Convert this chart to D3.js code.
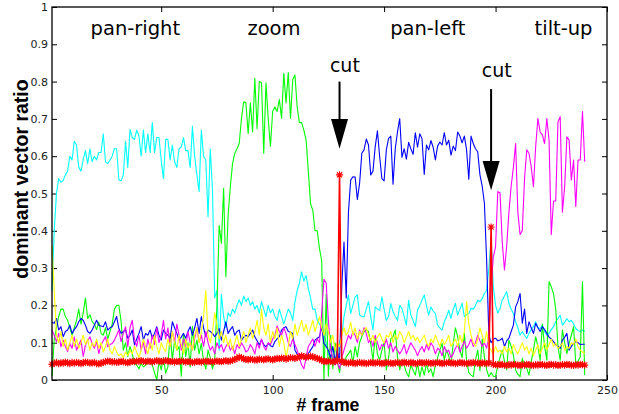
<!DOCTYPE html>
<html lang="en">
<head>
    <meta charset="UTF-8">
    <title>dominant vector ratio</title>
    <script src="https://d3js.org/d3.v7.min.js"></script>
    <style>
        body { margin: 0; background: #fff; }
    </style>
</head>
<body>

<div id="chart"></div>

<script>
    // frame numbers 1..240
    var frames = d3.range(1, 241);

    var cyanRatio = [
        0.24, 0.40, 0.50, 0.54, 0.53, 0.535, 0.55, 0.56, 0.60, 0.59,
        0.64, 0.63, 0.57, 0.56, 0.59, 0.615, 0.58, 0.62, 0.585, 0.60,
        0.59, 0.61, 0.61, 0.66, 0.585, 0.58, 0.59, 0.60, 0.62, 0.62,
        0.536, 0.534, 0.55, 0.64, 0.57, 0.672, 0.65, 0.645, 0.67, 0.655,
        0.60, 0.67, 0.61, 0.66, 0.61, 0.69, 0.61, 0.65, 0.65, 0.59,
        0.54, 0.645, 0.645, 0.59, 0.63, 0.585, 0.57, 0.62, 0.625, 0.65,
        0.615, 0.615, 0.57, 0.68, 0.60, 0.55, 0.505, 0.67, 0.60, 0.59,
        0.438, 0.62, 0.51, 0.22, 0.24, 0.08, 0.23, 0.17, 0.14, 0.18,
        0.17, 0.19, 0.18, 0.20, 0.215, 0.20, 0.225, 0.21, 0.22, 0.20,
        0.21, 0.19, 0.20, 0.18, 0.21, 0.19, 0.17, 0.20, 0.18, 0.19,
        0.17, 0.16, 0.19, 0.17, 0.15, 0.17, 0.19, 0.18, 0.16, 0.21,
        0.24, 0.26, 0.29, 0.265, 0.28, 0.245, 0.22, 0.19, 0.19, 0.16,
        0.15, 0.14, 0.12, 0.10, 0.07, 0.06, 0.05, 0.05, 0.06, 0.10,
        0.12, 0.17, 0.20, 0.228, 0.178, 0.20, 0.223, 0.228, 0.175, 0.17,
        0.17, 0.19, 0.21, 0.17, 0.134, 0.196, 0.19, 0.187, 0.223, 0.19,
        0.16, 0.17, 0.205, 0.183, 0.17, 0.16, 0.20, 0.192, 0.17, 0.147,
        0.214, 0.174, 0.16, 0.143, 0.187, 0.20, 0.214, 0.228, 0.20, 0.174,
        0.196, 0.185, 0.178, 0.147, 0.14, 0.134, 0.156, 0.17, 0.187, 0.165,
        0.19, 0.205, 0.174, 0.19, 0.205, 0.17, 0.175, 0.178, 0.192, 0.19,
        0.20, 0.214, 0.21, 0.218, 0.232, 0.24, 0.30, 0.38, 0.25, 0.20,
        0.18, 0.192, 0.214, 0.225, 0.237, 0.205, 0.19, 0.178, 0.156, 0.14,
        0.12, 0.13, 0.12, 0.112, 0.125, 0.135, 0.143, 0.156, 0.14, 0.138,
        0.147, 0.13, 0.12, 0.125, 0.135, 0.143, 0.156, 0.165, 0.174, 0.147,
        0.155, 0.165, 0.156, 0.16, 0.15, 0.138, 0.133, 0.129, 0.134, 0.13
    ];

    var greenRatio = [
        0.01, 0.11, 0.14, 0.17, 0.19, 0.19, 0.17, 0.16, 0.14, 0.12,
        0.14, 0.16, 0.19, 0.15, 0.18, 0.22, 0.165, 0.175, 0.157, 0.15,
        0.135, 0.155, 0.125, 0.12, 0.14, 0.11, 0.13, 0.15, 0.19, 0.20,
        0.20, 0.157, 0.08, 0.10, 0.063, 0.09, 0.07, 0.045, 0.04, 0.03,
        0.045, 0.035, 0.04, 0.045, 0.05, 0.04, 0.02, 0.0, 0.05, 0.027,
        0.06, 0.018, 0.036, 0.125, 0.054, 0.107, 0.08, 0.09, 0.01, 0.125,
        0.063, 0.10, 0.035, 0.143, 0.08, 0.107, 0.07, 0.098, 0.05, 0.03,
        0.08, 0.06, 0.03, 0.05, 0.20, 0.415, 0.366, 0.514, 0.277, 0.44,
        0.518, 0.58, 0.608, 0.62, 0.634, 0.701, 0.746, 0.743, 0.661, 0.743,
        0.665, 0.809, 0.674, 0.80, 0.797, 0.608, 0.797, 0.701, 0.626, 0.72,
        0.732, 0.72, 0.752, 0.701, 0.822, 0.743, 0.824, 0.701, 0.805, 0.818,
        0.732, 0.69, 0.69, 0.67, 0.643, 0.56, 0.473, 0.455, 0.40, 0.40,
        0.353, 0.32, 0.0, 0.23, 0.01, 0.12, 0.03, 0.10, 0.05, 0.02,
        0.06, 0.04, 0.062, 0.07, 0.08, 0.045, 0.09, 0.062, 0.10, 0.116,
        0.13, 0.134, 0.13, 0.098, 0.053, 0.116, 0.07, 0.053, 0.08, 0.10,
        0.027, 0.06, 0.11, 0.116, 0.134, 0.062, 0.027, 0.053, 0.04, 0.02,
        0.009, 0.04, 0.027, 0.013, 0.045, 0.009, 0.035, 0.013, 0.045, 0.02,
        0.03, 0.009, 0.04, 0.06, 0.08, 0.098, 0.053, 0.08, 0.065, 0.04,
        0.098, 0.14, 0.116, 0.08, 0.06, 0.125, 0.053, 0.02, 0.013, 0.009,
        0.053, 0.08, 0.025, 0.11, 0.062, 0.027, 0.009, 0.02, 0.01, 0.009,
        0.04, 0.06, 0.08, 0.05, 0.027, 0.107, 0.09, 0.067, 0.027, 0.015,
        0.009, 0.058, 0.04, 0.031, 0.013, 0.05, 0.08, 0.116, 0.09, 0.053,
        0.15, 0.09, 0.053, 0.264, 0.25, 0.232, 0.19, 0.09, 0.053, 0.134,
        0.10, 0.071, 0.098, 0.12, 0.143, 0.045, 0.05, 0.062, 0.264, 0.013
    ];

    var blueRatio = [
        0.155, 0.152, 0.165, 0.134, 0.143, 0.116, 0.13, 0.134, 0.147, 0.125,
        0.135, 0.143, 0.156, 0.165, 0.16, 0.147, 0.13, 0.125, 0.134, 0.147,
        0.16, 0.147, 0.145, 0.143, 0.156, 0.134, 0.14, 0.143, 0.156, 0.17,
        0.138, 0.125, 0.13, 0.134, 0.112, 0.12, 0.134, 0.094, 0.11, 0.125,
        0.143, 0.107, 0.125, 0.12, 0.134, 0.112, 0.125, 0.143, 0.12, 0.107,
        0.134, 0.125, 0.12, 0.112, 0.156, 0.14, 0.125, 0.107, 0.115, 0.125,
        0.112, 0.13, 0.143, 0.12, 0.14, 0.165, 0.125, 0.17, 0.14, 0.116,
        0.134, 0.13, 0.125, 0.116, 0.125, 0.138, 0.107, 0.13, 0.156, 0.125,
        0.135, 0.143, 0.12, 0.13, 0.134, 0.107, 0.115, 0.12, 0.116, 0.125,
        0.134, 0.116, 0.105, 0.094, 0.107, 0.095, 0.089, 0.098, 0.092, 0.089,
        0.103, 0.11, 0.116, 0.134, 0.14, 0.143, 0.13, 0.128, 0.125, 0.08,
        0.07, 0.063, 0.067, 0.06, 0.054, 0.071, 0.08, 0.089, 0.107, 0.112,
        0.116, 0.143, 0.098, 0.09, 0.08, 0.06, 0.09, 0.05, 0.08, 0.05,
        0.25, 0.37, 0.22, 0.45, 0.536, 0.545, 0.544, 0.484, 0.527, 0.608,
        0.617, 0.646, 0.63, 0.55, 0.56, 0.625, 0.668, 0.599, 0.54, 0.534,
        0.617, 0.648, 0.654, 0.525, 0.62, 0.665, 0.701, 0.597, 0.62, 0.592,
        0.637, 0.62, 0.605, 0.663, 0.624, 0.66, 0.647, 0.551, 0.63, 0.617,
        0.642, 0.624, 0.59, 0.627, 0.638, 0.63, 0.663, 0.63, 0.643, 0.603,
        0.627, 0.615, 0.665, 0.654, 0.636, 0.654, 0.617, 0.538, 0.654, 0.634,
        0.62, 0.612, 0.55, 0.52, 0.474, 0.32, 0.12, 0.10, 0.11, 0.112,
        0.105, 0.107, 0.112, 0.09, 0.105, 0.112, 0.13, 0.147, 0.196, 0.21,
        0.232, 0.152, 0.19, 0.125, 0.156, 0.14, 0.125, 0.152, 0.14, 0.13,
        0.143, 0.135, 0.125, 0.115, 0.11, 0.103, 0.095, 0.09, 0.085, 0.107,
        0.115, 0.125, 0.08, 0.09, 0.098, 0.103, 0.10, 0.095, 0.096, 0.096
    ];

    var magentaRatio = [
        0.134, 0.12, 0.103, 0.125, 0.089, 0.107, 0.09, 0.076, 0.098, 0.085,
        0.116, 0.08, 0.094, 0.107, 0.063, 0.094, 0.105, 0.116, 0.098, 0.085,
        0.103, 0.071, 0.094, 0.105, 0.116, 0.089, 0.095, 0.098, 0.107, 0.12,
        0.134, 0.103, 0.125, 0.143, 0.089, 0.14, 0.16, 0.11, 0.09, 0.12,
        0.08, 0.10, 0.07, 0.11, 0.085, 0.12, 0.095, 0.14, 0.10, 0.12,
        0.16, 0.11, 0.14, 0.09, 0.13, 0.10, 0.15, 0.12, 0.08, 0.11,
        0.09, 0.13, 0.10, 0.08, 0.11, 0.14, 0.10, 0.12, 0.09, 0.13,
        0.10, 0.08, 0.09, 0.07, 0.10, 0.085, 0.095, 0.075, 0.09, 0.10,
        0.08, 0.09, 0.07, 0.095, 0.085, 0.10, 0.09, 0.075, 0.08, 0.095,
        0.085, 0.07, 0.10, 0.085, 0.11, 0.09, 0.08, 0.10, 0.095, 0.11,
        0.12, 0.145, 0.13, 0.12, 0.14, 0.125, 0.10, 0.09, 0.11, 0.095,
        0.08, 0.06, 0.04, 0.03, 0.06, 0.09, 0.10, 0.11, 0.09, 0.11,
        0.10, 0.18, 0.27, 0.26, 0.16, 0.08, 0.06, 0.04, 0.05, 0.03,
        0.06, 0.08, 0.10, 0.12, 0.11, 0.13, 0.12, 0.10, 0.134, 0.12,
        0.14, 0.125, 0.10, 0.11, 0.09, 0.12, 0.10, 0.08, 0.095, 0.09,
        0.11, 0.085, 0.10, 0.075, 0.09, 0.08, 0.07, 0.08, 0.095, 0.07,
        0.085, 0.10, 0.09, 0.08, 0.065, 0.08, 0.09, 0.075, 0.095, 0.08,
        0.10, 0.09, 0.07, 0.085, 0.08, 0.065, 0.09, 0.075, 0.08, 0.06,
        0.07, 0.085, 0.095, 0.075, 0.09, 0.105, 0.085, 0.095, 0.11, 0.09,
        0.10, 0.12, 0.105, 0.09, 0.10, 0.085, 0.12, 0.25, 0.33, 0.357,
        0.505, 0.502, 0.37, 0.295, 0.36, 0.45, 0.52, 0.57, 0.634, 0.45,
        0.39, 0.40, 0.54, 0.617, 0.608, 0.572, 0.518, 0.626, 0.701, 0.665,
        0.657, 0.634, 0.701, 0.643, 0.39, 0.48, 0.48, 0.692, 0.706, 0.45,
        0.518, 0.652, 0.643, 0.536, 0.59, 0.465, 0.59, 0.59, 0.72, 0.585
    ];

    var yellowRatio = [
        0.36, 0.24, 0.12, 0.10, 0.13, 0.09, 0.11, 0.08, 0.10, 0.12,
        0.09, 0.11, 0.085, 0.10, 0.12, 0.095, 0.11, 0.08, 0.10, 0.09,
        0.11, 0.085, 0.10, 0.075, 0.09, 0.11, 0.08, 0.07, 0.09, 0.075,
        0.065, 0.07, 0.06, 0.075, 0.065, 0.08, 0.07, 0.09, 0.075, 0.06,
        0.08, 0.11, 0.09, 0.07, 0.10, 0.08, 0.12, 0.09, 0.07, 0.10,
        0.085, 0.075, 0.11, 0.09, 0.13, 0.10, 0.08, 0.12, 0.095, 0.07,
        0.11, 0.085, 0.10, 0.08, 0.12, 0.14, 0.10, 0.13, 0.17, 0.24,
        0.12, 0.10, 0.13, 0.18, 0.15, 0.11, 0.13, 0.10, 0.12, 0.09,
        0.11, 0.08, 0.10, 0.12, 0.09, 0.11, 0.13, 0.10, 0.12, 0.14,
        0.11, 0.13, 0.16, 0.12, 0.19, 0.14, 0.12, 0.15, 0.10, 0.13,
        0.11, 0.14, 0.09, 0.12, 0.10, 0.06, 0.09, 0.13, 0.11, 0.15,
        0.12, 0.14, 0.16, 0.13, 0.15, 0.12, 0.14, 0.16, 0.13, 0.15,
        0.17, 0.14, 0.12, 0.15, 0.13, 0.10, 0.12, 0.08, 0.10, 0.09,
        0.12, 0.14, 0.12, 0.13, 0.155, 0.12, 0.14, 0.11, 0.13, 0.12,
        0.135, 0.14, 0.12, 0.105, 0.12, 0.10, 0.115, 0.125, 0.11, 0.10,
        0.12, 0.115, 0.13, 0.10, 0.12, 0.11, 0.13, 0.12, 0.10, 0.115,
        0.13, 0.11, 0.12, 0.105, 0.115, 0.10, 0.11, 0.12, 0.10, 0.09,
        0.11, 0.10, 0.12, 0.105, 0.09, 0.11, 0.095, 0.105, 0.12, 0.09,
        0.10, 0.11, 0.09, 0.12, 0.10, 0.13, 0.21, 0.15, 0.12, 0.10,
        0.09, 0.11, 0.14, 0.12, 0.10, 0.13, 0.09, 0.08, 0.07, 0.09,
        0.075, 0.08, 0.07, 0.09, 0.075, 0.085, 0.07, 0.095, 0.08, 0.07,
        0.085, 0.10, 0.08, 0.09, 0.07, 0.085, 0.065, 0.08, 0.095, 0.07,
        0.085, 0.10, 0.08, 0.095, 0.11, 0.09, 0.10, 0.085, 0.09, 0.10,
        0.08, 0.09, 0.085, 0.10, 0.095, 0.11, 0.09, 0.08, 0.075, 0.07
    ];

    var redRatio = [
        0.042, 0.045, 0.047, 0.044, 0.046, 0.045, 0.048, 0.046, 0.044, 0.047,
        0.045, 0.047, 0.046, 0.044, 0.046, 0.048, 0.047, 0.045, 0.046, 0.047,
        0.044, 0.043, 0.045, 0.047, 0.049, 0.051, 0.05, 0.048, 0.049, 0.047,
        0.048, 0.05, 0.049, 0.047, 0.046, 0.048, 0.05, 0.049, 0.051, 0.05,
        0.052, 0.05, 0.049, 0.051, 0.05, 0.048, 0.05, 0.052, 0.051, 0.049,
        0.05, 0.052, 0.051, 0.049, 0.05, 0.048, 0.05, 0.049, 0.051, 0.05,
        0.048, 0.05, 0.049, 0.047, 0.048, 0.05, 0.049, 0.048, 0.05, 0.051,
        0.049, 0.05, 0.048, 0.05, 0.051, 0.05, 0.049, 0.051, 0.052, 0.05,
        0.051, 0.053, 0.055, 0.058, 0.062, 0.06, 0.057, 0.055, 0.054, 0.056,
        0.055, 0.053, 0.054, 0.056, 0.055, 0.054, 0.056, 0.057, 0.055, 0.054,
        0.056, 0.058, 0.057, 0.059, 0.058, 0.056, 0.058, 0.06, 0.059, 0.058,
        0.06, 0.062, 0.065, 0.063, 0.061, 0.062, 0.064, 0.062, 0.06, 0.058,
        0.056, 0.052, 0.05, 0.049, 0.051, 0.05, 0.048, 0.05, 0.052, 0.55,
        0.05, 0.047, 0.046, 0.045, 0.047, 0.046, 0.044, 0.046, 0.047, 0.045,
        0.046, 0.044, 0.045, 0.047, 0.046, 0.045, 0.047, 0.046, 0.044, 0.045,
        0.047, 0.046, 0.045, 0.044, 0.046, 0.047, 0.045, 0.046, 0.048, 0.046,
        0.045, 0.047, 0.046, 0.044, 0.045, 0.047, 0.046, 0.045, 0.047, 0.046,
        0.044, 0.046, 0.045, 0.047, 0.046, 0.044, 0.045, 0.046, 0.047, 0.045,
        0.046, 0.044, 0.045, 0.047, 0.046, 0.045, 0.044, 0.046, 0.045, 0.047,
        0.046, 0.045, 0.044, 0.046, 0.045, 0.044, 0.046, 0.41, 0.042, 0.041,
        0.04, 0.042, 0.041, 0.04, 0.039, 0.041, 0.04, 0.042, 0.041, 0.04,
        0.039, 0.041, 0.04, 0.042, 0.041, 0.04, 0.039, 0.041, 0.04, 0.042,
        0.041, 0.04, 0.039, 0.041, 0.042, 0.04, 0.041, 0.039, 0.04, 0.041,
        0.04, 0.042, 0.041, 0.04, 0.039, 0.041, 0.04, 0.042, 0.041, 0.04
    ];

    // axis ticks
    var xTicks = [50, 100, 150, 200, 250];
    var yTicks = [0, 0.1, 0.2, 0.3, 0.4, 0.5, 0.6, 0.7, 0.8, 0.9, 1];
    var yTickLabels = ["0", "0.1", "0.2", "0.3", "0.4", "0.5", "0.6", "0.7", "0.8", "0.9", "1"];

    // camera motion labels (frame position) and the two cuts
    var phaseLabels = ["pan-right", "zoom", "pan-left", "tilt-up"];
    var phaseFrames = [38.4, 100.6, 169.6, 230.5];
    var cutFrames = [130, 198];
    var cutLabelFrames = [132.4, 200.5];
    var cutLabelY = [0.826, 0.812];
    var arrowTop = [0.80, 0.78];
    var arrowHeadTop = [0.70, 0.587];
    var arrowTip = [0.62, 0.509];

    var series = [
        {color: "#00ffff", values: cyanRatio},
        {color: "#00ff00", values: greenRatio},
        {color: "#0000ff", values: blueRatio},
        {color: "#ff00ff", values: magentaRatio},
        {color: "#ffff00", values: yellowRatio},
        {color: "#ff0000", values: redRatio}
    ];

    var W = 619, H = 414;
    var margin = {top: 7, right: 12, bottom: 34, left: 52},
        width = W - margin.left - margin.right,
        height = H - margin.top - margin.bottom;

    var svg = d3.select("#chart").append("svg")
        .attr("width", W)
        .attr("height", H)
        .append("g")
        .attr("transform", "translate(" + margin.left + "," + margin.top + ")");

    var x = d3.scaleLinear().domain([1, 250]).range([0, width]);
    var y = d3.scaleLinear().domain([0, 1]).range([height, 0]);

    var tickFont = "DejaVu Sans, sans-serif";

    // bottom axis (ticks inside)
    var gx = svg.append("g")
        .attr("transform", "translate(0," + height + ")")
        .call(d3.axisBottom(x).tickValues(xTicks).tickSize(-5).tickSizeOuter(0).tickPadding(6));
    // top and right ticks, no labels
    var gxt = svg.append("g")
        .call(d3.axisTop(x).tickValues(xTicks).tickSize(-5).tickSizeOuter(0).tickFormat(""));
    var gy = svg.append("g")
        .call(d3.axisLeft(y).tickValues(yTicks).tickSize(-5).tickSizeOuter(0).tickPadding(4)
            .tickFormat(function(d, i) { return yTickLabels[i]; }));
    var gyr = svg.append("g")
        .attr("transform", "translate(" + width + ",0)")
        .call(d3.axisRight(y).tickValues(yTicks).tickSize(-5).tickSizeOuter(0).tickFormat(""));

    [gx, gxt, gy, gyr].forEach(function(g) {
        g.select(".domain").remove();
        g.selectAll(".tick line").attr("stroke", "#000");
        g.selectAll("text")
            .attr("font-family", tickFont)
            .attr("font-size", 11)
            .attr("fill", "#222");
    });

    // data lines
    var line = d3.line()
        .x(function(d, i) { return x(frames[i]); })
        .y(function(d) { return y(d); });

    series.forEach(function(s) {
        svg.append("path")
            .datum(s.values)
            .attr("fill", "none")
            .attr("stroke", s.color)
            .attr("stroke-width", s.color == "#ff0000" ? 1.6 : 1.1)
            .attr("stroke-linejoin", "round")
            .attr("d", line);
    });

    // '*' markers on the red series
    var star = "M-3.6,0H3.6M0,-3.6V3.6M-2.6,-2.6L2.6,2.6M-2.6,2.6L2.6,-2.6";
    svg.append("g")
        .selectAll("path")
        .data(redRatio)
        .join("path")
        .attr("transform", function(d, i) { return "translate(" + x(frames[i]) + "," + y(d) + ")"; })
        .attr("d", star)
        .attr("fill", "none")
        .attr("stroke", "#ff0000")
        .attr("stroke-width", 1.1);

    // box
    svg.append("rect")
        .attr("width", width)
        .attr("height", height)
        .attr("fill", "none")
        .attr("stroke", "#000")
        .attr("stroke-width", 1.3);

    // camera motion labels
    svg.selectAll(".phase")
        .data(phaseLabels)
        .join("text")
        .attr("class", "phase")
        .attr("x", function(d, i) { return x(phaseFrames[i]); })
        .attr("y", y(0.925))
        .attr("text-anchor", "middle")
        .attr("font-family", "DejaVu Sans, sans-serif")
        .attr("font-size", 19.5)
        .attr("fill", "#000")
        .text(function(d) { return d; });

    // cut annotations with arrows
    cutFrames.forEach(function(f, i) {
        svg.append("text")
            .attr("x", x(cutLabelFrames[i]))
            .attr("y", y(cutLabelY[i]))
            .attr("text-anchor", "middle")
            .attr("font-family", "DejaVu Sans, sans-serif")
            .attr("font-size", 19)
            .attr("fill", "#000")
            .text("cut");

        var cx = x(f);
        svg.append("line")
            .attr("x1", cx).attr("x2", cx)
            .attr("y1", y(arrowTop[i])).attr("y2", y(arrowHeadTop[i]) + 2)
            .attr("stroke", "#000")
            .attr("stroke-width", 2);

        svg.append("path")
            .attr("d", "M" + (cx - 8.5) + "," + y(arrowHeadTop[i]) +
                "L" + (cx + 8.5) + "," + y(arrowHeadTop[i]) +
                "L" + cx + "," + y(arrowTip[i]) + "Z")
            .attr("fill", "#000");
    });

    // axis labels
    svg.append("text")
        .attr("x", 276)
        .attr("y", height + 31)
        .attr("text-anchor", "middle")
        .attr("font-family", "Liberation Sans, Arial, sans-serif")
        .attr("font-weight", "bold")
        .attr("font-size", 17.7)
        .attr("fill", "#000")
        .text("# frame");

    svg.append("text")
        .attr("transform", "translate(-24,172) rotate(-90)")
        .attr("text-anchor", "middle")
        .attr("font-family", "Liberation Sans, Arial, sans-serif")
        .attr("font-weight", "bold")
        .attr("font-size", 19.5)
        .attr("fill", "#000")
        .text("dominant vector ratio");
</script>

</body>
</html>
